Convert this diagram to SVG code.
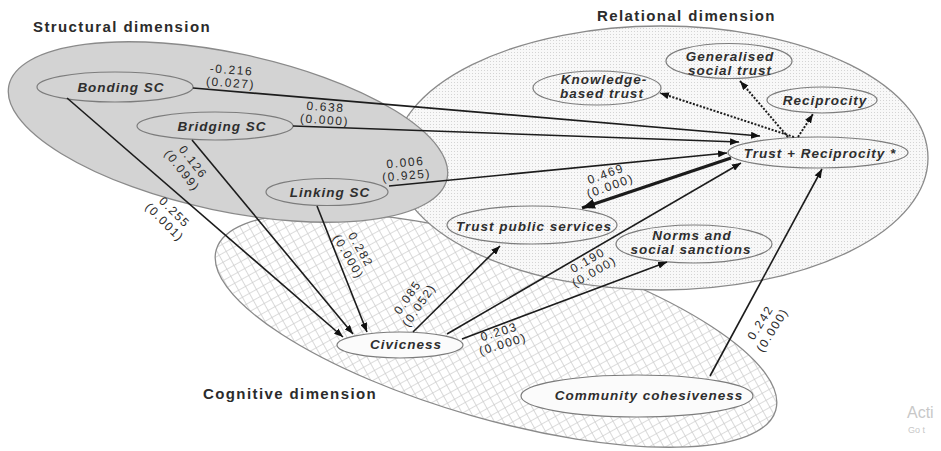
<svg xmlns="http://www.w3.org/2000/svg" width="941" height="451" viewBox="0 0 941 451">
  <defs>
    <style>
      .region { stroke: #8a8a8a; stroke-width: 1.3; }
      .heading { font-family: "Liberation Sans", Arial, sans-serif; font-size: 15px; font-weight: bold; fill: #2b2b2b; letter-spacing: 1.4px; }
      .node ellipse { fill: none; stroke: #7c7c7c; stroke-width: 1.2; }
      .node.solid ellipse { fill: #fbfbfb; }
      .node text { font-family: "Liberation Sans", Arial, sans-serif; font-size: 13.5px; font-weight: bold; font-style: italic; fill: #2e2e2e; letter-spacing: 1px; text-anchor: middle; }
      .edge { fill: none; stroke: #1c1c1c; stroke-width: 1.6; marker-end: url(#ah); }
      .edge.thick { stroke-width: 3.2; marker-end: url(#ahBig); }
      .edge.dotted { stroke-width: 2; stroke-dasharray: 2 1.6; }
      .coef text { font-family: "Liberation Sans", Arial, sans-serif; font-size: 12px; fill: #2a2a2a; letter-spacing: 1.6px; text-anchor: middle; }
      .mark { font-family: "Liberation Sans", Arial, sans-serif; fill: #c8c8c8; }
    </style>
    <!-- fine stipple for the relational dimension -->
    <pattern id="dots" width="3" height="3" patternUnits="userSpaceOnUse">
      <rect width="3" height="3" fill="#f8f8f8"/>
      <rect x="1" y="1" width="1" height="1" fill="#d4d4d4"/>
    </pattern>
    <!-- diagonal cross-hatch for the cognitive dimension -->
    <pattern id="hatch" width="8" height="8" patternUnits="userSpaceOnUse" patternTransform="rotate(45)">
      <rect width="8" height="8" fill="#ffffff"/>
      <path d="M0,0 H8 M0,0 V8" stroke="#cdcdcd" stroke-width="1.4"/>
    </pattern>
    <marker id="ah" viewBox="0 0 9 7" refX="9" refY="3.5" markerWidth="9" markerHeight="7" markerUnits="userSpaceOnUse" orient="auto">
      <path d="M0,0 L9,3.5 L0,7 z" fill="#111"/>
    </marker>
    <marker id="ahBig" viewBox="0 0 13 10" refX="13" refY="5" markerWidth="13" markerHeight="10" markerUnits="userSpaceOnUse" orient="auto">
      <path d="M0,0 L13,5 L0,10 z" fill="#111"/>
    </marker>
  </defs>

  <rect width="941" height="451" fill="#ffffff"/>

  <!-- dimension regions -->
  <g id="cognitive-dimension">
    <ellipse class="region" cx="496" cy="330" rx="291" ry="89" transform="rotate(16 496 330)" fill="url(#hatch)"/>
    <text class="heading" x="203" y="399">Cognitive dimension</text>
  </g>
  <g id="relational-dimension">
    <ellipse class="region" cx="661" cy="158" rx="267" ry="132" fill="url(#dots)"/>
    <text class="heading" x="597" y="21">Relational dimension</text>
  </g>
  <g id="structural-dimension">
    <ellipse class="region" cx="228" cy="132" rx="224" ry="79" transform="rotate(12 228 132)" fill="#d3d3d3"/>
    <text class="heading" x="33" y="32">Structural dimension</text>
  </g>

  <!-- nodes -->
  <g id="bonding-sc" class="node">
    <ellipse cx="115" cy="87" rx="78" ry="15"/>
    <text x="121" y="92">Bonding SC</text>
  </g>
  <g id="bridging-sc" class="node">
    <ellipse cx="215" cy="126" rx="78" ry="14"/>
    <text x="222" y="131">Bridging SC</text>
  </g>
  <g id="linking-sc" class="node">
    <ellipse cx="327" cy="192" rx="61" ry="13.5"/>
    <text x="330" y="197">Linking SC</text>
  </g>
  <g id="knowledge-based-trust" class="node">
    <ellipse cx="597" cy="88" rx="64" ry="17"/>
    <text x="604" y="84">Knowledge-</text>
    <text x="602" y="98">based trust</text>
  </g>
  <g id="generalised-social-trust" class="node">
    <ellipse cx="729" cy="61" rx="63" ry="17.5"/>
    <text x="730" y="61">Generalised</text>
    <text x="730" y="75">social trust</text>
  </g>
  <g id="reciprocity" class="node">
    <ellipse cx="822" cy="100" rx="55" ry="13"/>
    <text x="825" y="105">Reciprocity</text>
  </g>
  <g id="trust-reciprocity" class="node">
    <ellipse cx="818" cy="152.5" rx="90" ry="15.5"/>
    <text x="820" y="158">Trust + Reciprocity *</text>
  </g>
  <g id="trust-public-services" class="node">
    <ellipse cx="532" cy="225" rx="85" ry="19"/>
    <text x="534" y="231">Trust public services</text>
  </g>
  <g id="norms-social-sanctions" class="node">
    <ellipse cx="694" cy="244" rx="78" ry="19"/>
    <text x="692" y="240">Norms and</text>
    <text x="691" y="254">social sanctions</text>
  </g>
  <g id="civicness" class="node solid">
    <ellipse cx="400" cy="345" rx="63" ry="13"/>
    <text x="406" y="349">Civicness</text>
  </g>
  <g id="community-cohesiveness" class="node solid">
    <ellipse cx="637" cy="396" rx="116" ry="21"/>
    <text x="649" y="400">Community cohesiveness</text>
  </g>

  <!-- connectors -->
  <g id="connectors">
    <path class="edge" d="M193,88 L760,136"/>
    <path class="edge" d="M293,126 L739,142"/>
    <path class="edge" d="M389,186 L727,153"/>
    <path class="edge thick" d="M731,158 L582,208"/>
    <path class="edge" d="M67,98 L343,337"/>
    <path class="edge" d="M192,140 L353,334"/>
    <path class="edge" d="M317,206 L367,332"/>
    <path class="edge" d="M413,332 L500,246"/>
    <path class="edge" d="M447,334 L741,163"/>
    <path class="edge" d="M462,339 L667,262"/>
    <path class="edge" d="M710,376 L822,169"/>
    <path class="edge dotted" d="M794,137 L660,93"/>
    <path class="edge dotted" d="M788,137 L740,81"/>
    <path class="edge dotted" d="M798,137 L813,114"/>

    <!-- path coefficients (p-values) -->
    <g class="coef" transform="translate(231 76.5) rotate(4)">
      <text y="-2.5">-0.216</text><text y="10.5">(0.027)</text>
    </g>
    <g class="coef" transform="translate(325 113.5) rotate(4)">
      <text y="-2.5">0.638</text><text y="10.5">(0.000)</text>
    </g>
    <g class="coef" transform="translate(406 169) rotate(-5)">
      <text y="-2.5">0.006</text><text y="10.5">(0.925)</text>
    </g>
    <g class="coef" transform="translate(608 180) rotate(-20)">
      <text y="-2.5">0.469</text><text y="10.5">(0.000)</text>
    </g>
    <g class="coef" transform="translate(170 217) rotate(45)">
      <text y="-2.5">0.255</text><text y="11.5">(0.001)</text>
    </g>
    <g class="coef" transform="translate(188 166) rotate(52)">
      <text y="-2.5">0.126</text><text y="11.5">(0.099)</text>
    </g>
    <g class="coef" transform="translate(355 253) rotate(60)">
      <text y="-2.5">0.282</text><text y="11.5">(0.000)</text>
    </g>
    <g class="coef" transform="translate(413 301) rotate(-55)">
      <text y="-2.5">0.085</text><text y="11.5">(0.052)</text>
    </g>
    <g class="coef" transform="translate(591 266) rotate(-30)">
      <text y="-2.5">0.190</text><text y="10.5">(0.000)</text>
    </g>
    <g class="coef" transform="translate(501 338) rotate(-17)">
      <text y="-2.5">0.203</text><text y="10.5">(0.000)</text>
    </g>
    <g class="coef" transform="translate(766 326) rotate(-58)">
      <text y="-2.5">0.242</text><text y="11.5">(0.000)</text>
    </g>
  </g>

  <!-- faint overlay text at the lower right edge -->
  <text class="mark" x="907" y="418" font-size="16">Acti</text>
  <text class="mark" x="908" y="433" font-size="9">Go t</text>
</svg>
